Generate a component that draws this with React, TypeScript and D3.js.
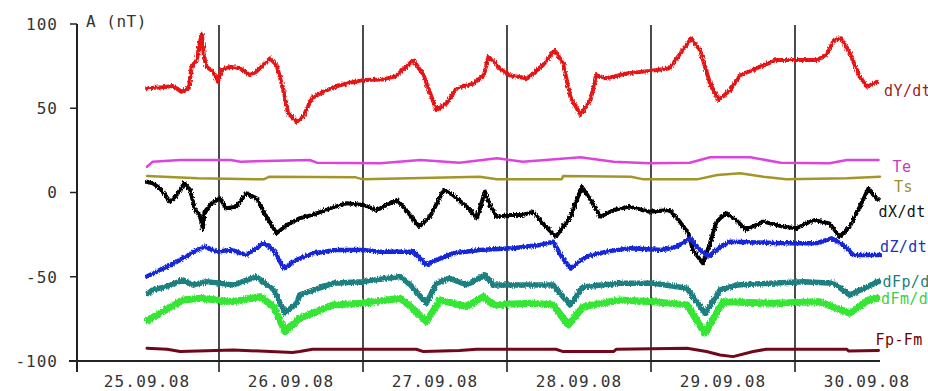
import React from "react";
import * as d3 from "d3";

// [day since 25.09.08 00:00, nT]
const dYdt = [
  [0.5, 61.8], [0.61, 62.4], [0.68, 63.2], [0.74, 59.8], [0.79, 61.8], [0.81, 74.6], [0.845, 78.6],
  [0.865, 88], [0.88, 94.4], [0.896, 80.5], [0.914, 74.6], [0.96, 71.7], [0.988, 65.7], [1.018, 72.7],
  [1.076, 74.6], [1.146, 73.7], [1.215, 69.7], [1.26, 71.7], [1.354, 79.6], [1.4, 75.6], [1.447, 60.8],
  [1.48, 47], [1.54, 42], [1.585, 45], [1.644, 55.9], [1.724, 59.8], [1.817, 63.2], [1.91, 65.1],
  [2.0, 66.7], [2.14, 67.1], [2.23, 69.1], [2.35, 78.6], [2.42, 69.7], [2.51, 48.9], [2.58, 52.9],
  [2.65, 61.8], [2.77, 64.8], [2.84, 69.7], [2.87, 80.5], [2.9, 78.6], [2.95, 73.7], [3.01, 69.7],
  [3.14, 67.7], [3.25, 75.6], [3.33, 84.5], [3.39, 76.6], [3.44, 56.8], [3.51, 46], [3.58, 54.9],
  [3.62, 69.7], [3.69, 67.7], [3.83, 70.7], [3.99, 72.1], [4.13, 73.7], [4.22, 84.5], [4.28, 91.5],
  [4.34, 84.5], [4.41, 64.8], [4.47, 54.9], [4.55, 60.8], [4.62, 69.7], [4.73, 73.7], [4.87, 78.6],
  [5.01, 78.6], [5.15, 78.6], [5.22, 81.6], [5.27, 90.5], [5.32, 91.5], [5.38, 82.6], [5.45, 68.7],
  [5.5, 62.8], [5.57, 65.7],
];

const te = [
  [0.5, 15.3], [0.54, 18.3], [0.73, 19.3], [1.08, 19.3], [1.15, 18.3], [1.63, 19.3], [1.68, 17.7],
  [2.12, 17.3], [2.4, 19.3], [2.67, 17.7], [2.93, 20.3], [3.11, 18.3], [3.51, 20.9], [3.74, 18.3],
  [3.99, 17.3], [4.27, 17.7], [4.41, 20.9], [4.69, 20.9], [4.9, 17.7], [5.24, 17.3], [5.36, 19.3],
  [5.58, 19.3],
];

const ts = [
  [0.5, 9.8], [0.85, 8.4], [1.31, 7.8], [1.35, 9.4], [1.95, 9.0], [2.0, 7.8], [2.81, 9.4], [2.93, 7.8],
  [3.38, 7.8], [3.39, 9.8], [3.86, 9.4], [3.95, 7.8], [4.32, 7.8], [4.46, 10.4], [4.62, 11.4],
  [4.78, 9.4], [4.94, 7.8], [5.36, 8.4], [5.59, 9.4],
];

const dXdt = [
  [0.5, 6.4], [0.54, 5.5], [0.59, 2.5], [0.66, -5.5], [0.705, -1.5], [0.76, 5.5], [0.8, 1.5],
  [0.83, -9.4], [0.87, -14.4], [0.887, -21.8], [0.9, -11.4], [0.95, -6.4], [1.007, -3.4], [1.05, -9.4],
  [1.12, -8.4], [1.19, -0.5], [1.26, -3.4], [1.33, -14.4], [1.4, -24.2], [1.47, -19.3], [1.56, -15.3],
  [1.65, -13.3], [1.77, -9.4], [1.886, -6.4], [2.0, -7.4], [2.095, -10.4], [2.12, -9.4], [2.235, -4.4],
  [2.3, -10.4], [2.39, -20.3], [2.465, -14.4], [2.56, 1.5], [2.625, -1.5], [2.72, -8.4], [2.79, -15.3],
  [2.847, 0.5], [2.88, -7.4], [2.93, -14.4], [3.02, -13.3], [3.11, -13.3], [3.18, -11.4], [3.27, -20.3],
  [3.34, -26.2], [3.44, -14.4], [3.52, 3.4], [3.58, -4.4], [3.65, -14.4], [3.74, -10.4], [3.85, -8.4],
  [3.99, -11.4], [4.13, -10.4], [4.2, -17.3], [4.26, -24.2], [4.29, -34.1], [4.36, -42], [4.41, -30.1],
  [4.455, -17.3], [4.52, -12.3], [4.59, -16.3], [4.66, -22.2], [4.78, -17.3], [4.92, -20.3],
  [5.01, -21.2], [5.13, -16.3], [5.24, -18.3], [5.31, -26.2], [5.38, -20.3], [5.45, -8.4], [5.51, 2.5],
  [5.555, -2.5], [5.58, -4.4],
];

const dZdt = [
  [0.5, -49.9], [0.59, -46], [0.73, -40], [0.845, -34.1], [0.9, -32.1], [0.98, -35.1], [1.08, -34.1],
  [1.19, -37.1], [1.31, -30.1], [1.38, -34.1], [1.45, -45], [1.54, -40], [1.655, -36.1], [1.82, -34.1],
  [2.0, -34.1], [2.12, -35.1], [2.35, -35.1], [2.44, -43], [2.51, -40], [2.63, -36.1], [2.81, -34.1],
  [3.04, -33.1], [3.23, -31.1], [3.32, -29.2], [3.38, -38.1], [3.44, -45], [3.55, -38.1], [3.69, -35.1],
  [3.85, -33.1], [4.08, -34.1], [4.18, -32.1], [4.27, -27.2], [4.34, -34.1], [4.4, -38.1], [4.48, -32.1],
  [4.55, -29.2], [4.9, -30.1], [5.15, -30.1], [5.255, -27.2], [5.335, -31.1], [5.405, -37.1],
  [5.59, -37.1],
];

const dFpdt = [
  [0.51, -59.8], [0.54, -57.8], [0.635, -55.9], [0.75, -51.9], [0.82, -54.9], [0.915, -52.9],
  [1.1, -54.9], [1.26, -49.9], [1.38, -57.8], [1.458, -71.6], [1.54, -65.7], [1.56, -60.8],
  [1.79, -53.9], [2.0, -52.9], [2.26, -49.9], [2.33, -54.9], [2.44, -65.7], [2.51, -53.9], [2.6, -50.9],
  [2.72, -54.9], [2.847, -48.9], [2.905, -54.9], [3.18, -54.9], [3.32, -54.9], [3.438, -66.7],
  [3.53, -55.9], [3.785, -53.9], [4.02, -53.9], [4.25, -56.8], [4.375, -71.6], [4.48, -57.8],
  [4.595, -54.9], [4.83, -53.9], [5.06, -52.9], [5.27, -53.9], [5.38, -60.8], [5.5, -55.9],
  [5.58, -52.9],
];

const dFmdt = [
  [0.51, -75.6], [0.59, -71.6], [0.75, -63.8], [0.87, -62.8], [1.1, -64.8], [1.285, -61.8],
  [1.38, -67.7], [1.458, -82.6], [1.56, -74.6], [1.79, -66.7], [2.0, -65.7], [2.26, -62.8],
  [2.33, -67.7], [2.44, -76.6], [2.535, -63.8], [2.72, -67.7], [2.835, -61.8], [2.905, -66.7],
  [3.18, -65.7], [3.32, -66.7], [3.425, -78.6], [3.53, -67.7], [3.785, -63.8], [4.02, -64.8],
  [4.25, -66.7], [4.375, -83.5], [4.5, -64.8], [4.83, -65.7], [5.17, -64.8], [5.38, -71.6],
  [5.51, -63.8], [5.57, -62.8],
];

const fpFm = [
  [0.5, -92.4], [0.64, -93], [0.73, -94.4], [1.1, -93.4], [1.51, -95], [1.56, -94.4], [1.65, -93],
  [2.37, -93], [2.42, -94.4], [2.67, -93.8], [2.79, -93], [3.34, -93], [3.39, -94.4], [3.74, -94.4],
  [3.76, -93], [4.25, -92.4], [4.385, -94.4], [4.48, -96.4], [4.57, -97.4], [4.71, -94.4], [4.8, -93],
  [5.36, -93], [5.37, -94], [5.58, -93.8],
];

const seriesNames = ["dY/dt", "Te", "Ts", "dX/dt", "dZ/dt", "dFp/dt", "dFm/dt", "Fp-Fm"];
// value at which each end label sits
const labelValues = [60.2, 15.4, 3.6, -11.3, -32, -52.8, -63.2, -87.5];

const dayLabels = ["25.09.08", "26.09.08", "27.09.08", "28.09.08", "29.09.08", "30.09.08"];
const yTicks = [100, 50, 0, -50, -100];

const seriesData = [dYdt, te, ts, dXdt, dZdt, dFpdt, dFmdt, fpFm];

// drawing styles, same order as seriesNames (rough = jittery trace)
const styles = [
  { color: "#e81818", width: 4, label: "#a01c1c", dx: 7, rough: true },
  { color: "#dd44dd", width: 2.5, label: "#c040c0", dx: 14, rough: false },
  { color: "#a39628", width: 2.5, label: "#a09030", dx: 14, rough: false },
  { color: "#000000", width: 4, label: "#111111", dx: 0, rough: true },
  { color: "#1428d8", width: 4.5, label: "#2030c0", dx: 0, rough: true },
  { color: "#1f7f80", width: 5.5, label: "#208080", dx: 4, rough: true },
  { color: "#35e635", width: 7, label: "#40d040", dx: 4, rough: true },
  { color: "#70081a", width: 3, label: "#700000", dx: -3, rough: false },
];

const W = 928;
const H = 391;
const FONT = "'DejaVu Sans Mono', monospace";

export default function App() {
  const x = d3.scaleLinear().domain([0, 6]).range([75, 939]);
  const y = d3.scaleLinear().domain([-100, 100]).range([361, 24]);
  const axisX = 77;

  const line = d3
    .line<number[]>()
    .x((d) => x(d[0]))
    .y((d) => y(d[1]))
    .curve(d3.curveLinear);

  const dayLines = d3.range(1, dayLabels.length);

  return (
    <div style={{ position: "absolute", left: 0, top: 0 }}>
      <svg width={W} height={H} style={{ display: "block", background: "#fff" }}>
        <defs>
          <filter id="jitter" x="-5%" y="-20%" width="110%" height="140%">
            <feTurbulence type="fractalNoise" baseFrequency="0.9 0.35" numOctaves={2} seed={3} />
            <feDisplacementMap in="SourceGraphic" scale={4} xChannelSelector="R" yChannelSelector="G" />
          </filter>
        </defs>

        {/* day separators */}
        {dayLines.map((d) => (
          <line key={d} x1={x(d)} x2={x(d)} y1={25} y2={372} stroke="#111" strokeWidth={1.5} />
        ))}

        {/* axes */}
        <line x1={axisX} x2={axisX} y1={y(100)} y2={372} stroke="#222" strokeWidth={2} />
        <line x1={69} x2={880} y1={y(-100)} y2={y(-100)} stroke="#222" strokeWidth={2} />
        {yTicks.map((t) => (
          <g key={t}>
            <line x1={70} x2={axisX} y1={y(t)} y2={y(t)} stroke="#222" strokeWidth={1.5} />
            <text
              x={58}
              y={y(t)}
              dy="0.36em"
              textAnchor="end"
              fontFamily={FONT}
              fontSize={16}
              letterSpacing={1}
              fill="#333"
            >
              {t}
            </text>
          </g>
        ))}
        <text x={86} y={27} fontFamily={FONT} fontSize={16} letterSpacing={0.5} fill="#333">
          A (nT)
        </text>

        {dayLabels.map((lab, i) => (
          <text
            key={lab}
            x={x(i + 0.5)}
            y={387}
            textAnchor="middle"
            fontFamily={FONT}
            fontSize={16}
            letterSpacing={1.2}
            fill="#333"
          >
            {lab}
          </text>
        ))}

        {/* series */}
        {seriesData.map((s, i) => (
          <path
            key={seriesNames[i]}
            d={line(s) ?? ""}
            fill="none"
            stroke={styles[i].color}
            strokeWidth={styles[i].width}
            strokeLinejoin="round"
            strokeLinecap="round"
            filter={styles[i].rough ? "url(#jitter)" : undefined}
          />
        ))}
        {/* darker texture on the red trace */}
        <path
          d={line(dYdt) ?? ""}
          fill="none"
          stroke="#a80c0c"
          strokeWidth={1}
          strokeDasharray="1 4"
          opacity={0.7}
          filter="url(#jitter)"
        />

        {/* end labels */}
        {seriesData.map((s, i) => (
          <text
            key={"lab" + i}
            x={x(s[s.length - 1][0]) + styles[i].dx}
            y={y(labelValues[i])}
            dy="0.36em"
            fontFamily={FONT}
            fontSize={15}
            letterSpacing={0.4}
            fill={styles[i].label}
          >
            {seriesNames[i]}
          </text>
        ))}
      </svg>
    </div>
  );
}
